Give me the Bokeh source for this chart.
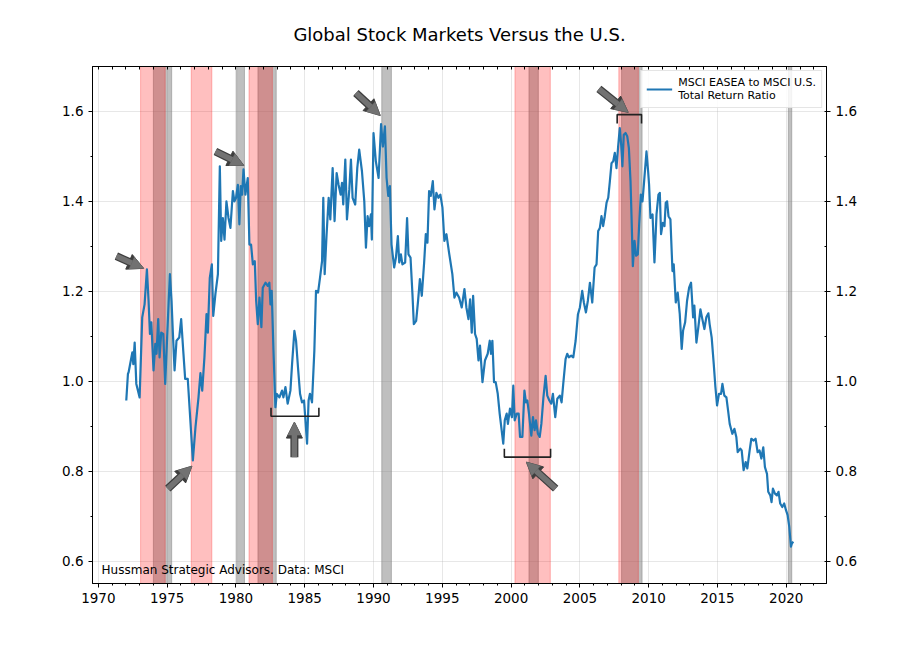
from bokeh.plotting import figure
from bokeh.models import (Range1d, LinearAxis, SingleIntervalTicker, FixedTicker, BoxAnnotation,
                          Arrow, NormalHead, Label, Legend, LegendItem, NumeralTickFormatter)
from bokeh.embed import file_html
from bokeh.resources import INLINE

# ---------------- data ----------------
years = [
    1972.03, 1972.15, 1972.20, 1972.47, 1972.54, 1972.64, 1972.76, 1973.00, 1973.19, 1973.36,
    1973.53, 1973.65, 1973.75, 1973.85, 1974.01, 1974.14, 1974.23, 1974.35, 1974.45, 1974.57,
    1974.72, 1974.86, 1975.00, 1975.20, 1975.32, 1975.41, 1975.54, 1975.68, 1975.88, 1976.02,
    1976.17, 1976.31, 1976.50, 1976.65, 1976.87, 1977.06, 1977.28, 1977.42, 1977.55, 1977.71,
    1977.86, 1977.96, 1978.10, 1978.25, 1978.35, 1978.51, 1978.69, 1978.83, 1978.93, 1979.05,
    1979.17, 1979.31, 1979.46, 1979.60, 1979.78, 1979.89,
    1980.01, 1980.14, 1980.25, 1980.35, 1980.45, 1980.55, 1980.69, 1980.86, 1980.98, 1981.10,
    1981.23, 1981.37, 1981.47, 1981.59, 1981.71, 1981.85, 1981.95, 1982.15, 1982.31, 1982.43,
    1982.51, 1982.60, 1982.73, 1982.87, 1982.97, 1983.16, 1983.35, 1983.45, 1983.60, 1983.76,
    1983.96, 1984.08, 1984.25, 1984.37, 1984.51, 1984.66, 1984.80, 1984.95, 1985.02, 1985.17,
    1985.28, 1985.38, 1985.53, 1985.70, 1985.82, 1985.97, 1986.11, 1986.26, 1986.35, 1986.45,
    1986.59, 1986.74, 1986.86, 1987.03, 1987.17, 1987.32, 1987.46, 1987.61, 1987.71, 1987.80,
    1987.95, 1988.07, 1988.24, 1988.36, 1988.48, 1988.67, 1988.82, 1988.96, 1989.16, 1989.33,
    1989.45, 1989.57, 1989.68, 1989.81, 1989.88, 1990.00, 1990.17, 1990.37,
    1990.55, 1990.68, 1990.83, 1990.95,
    1991.07, 1991.19, 1991.31, 1991.50, 1991.63, 1991.77, 1991.87, 1991.99, 1992.10, 1992.30,
    1992.44, 1992.54, 1992.69, 1992.83, 1992.93, 1993.10, 1993.24, 1993.37, 1993.51, 1993.68,
    1993.80, 1993.92, 1994.04, 1994.16, 1994.31, 1994.43, 1994.57, 1994.72, 1994.86, 1995.01,
    1995.15, 1995.30, 1995.49, 1995.73, 1995.88, 1996.02, 1996.22, 1996.41, 1996.61, 1996.75,
    1996.90, 1997.02, 1997.14, 1997.24, 1997.38, 1997.50, 1997.63, 1997.74, 1997.92, 1998.10,
    1998.30, 1998.45, 1998.54, 1998.64, 1998.76, 1998.88, 1999.03, 1999.17,
    1999.43, 1999.54, 1999.68, 1999.77, 1999.92, 2000.06, 2000.16, 2000.26, 2000.41, 2000.55,
    2000.65, 2000.82, 2000.97, 2001.08, 2001.18, 2001.30, 2001.47, 2001.59, 2001.71, 2001.81,
    2001.95, 2002.08, 2002.20, 2002.35, 2002.51, 2002.63, 2002.78, 2002.92, 2003.04, 2003.21,
    2003.36, 2003.54, 2003.67, 2003.79, 2003.96, 2004.08, 2004.20, 2004.37, 2004.52, 2004.69,
    2004.86, 2005.00, 2005.17, 2005.29, 2005.44, 2005.58, 2005.73, 2005.90, 2006.07, 2006.21,
    2006.33, 2006.45, 2006.57, 2006.69, 2006.81, 2006.94, 2007.06, 2007.18, 2007.30, 2007.42,
    2007.54, 2007.66, 2007.78, 2007.90, 2008.00, 2008.09, 2008.19, 2008.32, 2008.44, 2008.56,
    2008.68, 2008.75, 2008.85, 2008.97, 2009.09, 2009.21, 2009.31, 2009.43, 2009.55, 2009.67,
    2009.84, 2009.96,
    2010.03, 2010.13, 2010.28, 2010.42, 2010.57, 2010.71, 2010.81, 2010.90, 2011.03, 2011.15,
    2011.24, 2011.34, 2011.44, 2011.58, 2011.73, 2011.82, 2011.97, 2012.11, 2012.26, 2012.40,
    2012.50, 2012.65, 2012.79, 2012.94, 2013.08, 2013.23, 2013.32, 2013.47, 2013.61, 2013.76,
    2013.90, 2014.05, 2014.19, 2014.34, 2014.43, 2014.58, 2014.73, 2014.85, 2014.97, 2015.11,
    2015.26, 2015.36, 2015.50, 2015.65, 2015.77, 2015.89, 2016.08, 2016.23, 2016.37, 2016.47,
    2016.66, 2016.76, 2016.90, 2017.05, 2017.17, 2017.34, 2017.46, 2017.63, 2017.77, 2017.92,
    2018.06, 2018.19, 2018.33, 2018.45, 2018.60, 2018.69, 2018.84, 2018.93, 2019.03, 2019.18,
    2019.32, 2019.44, 2019.56, 2019.71, 2019.85, 2019.98, 2020.10, 2020.22, 2020.34, 2020.41,
    2020.51,
]
ratio = [
    0.957, 1.016, 1.020, 1.064, 1.038, 1.086, 0.994, 0.964, 1.142, 1.171,
    1.249, 1.179, 1.105, 1.131, 1.024, 1.083, 1.061, 1.138, 1.053, 1.108,
    1.105, 0.994, 1.098, 1.238, 1.179, 1.112, 1.024, 1.090, 1.097, 1.138,
    1.068, 1.005, 1.005, 0.931, 0.824, 0.898, 0.964, 1.018, 0.979, 1.053,
    1.149, 1.108, 1.230, 1.260, 1.145, 1.194, 1.238, 1.478, 1.312, 1.363,
    1.315, 1.400, 1.363, 1.341, 1.423, 1.400,
    1.408, 1.437, 1.349, 1.434, 1.415, 1.471, 1.415, 1.452, 1.304, 1.304,
    1.260, 1.267, 1.179, 1.127, 1.186, 1.120, 1.208, 1.219, 1.212, 1.219,
    1.171, 1.201, 1.068, 0.942, 0.972, 0.964, 0.979, 0.964, 0.987, 0.950,
    0.979, 1.038, 1.112, 1.090, 1.031, 0.972, 0.953, 0.957, 0.927, 0.861,
    0.957, 0.972, 0.953, 1.068, 1.201, 1.197, 1.230, 1.267, 1.408, 1.238,
    1.327, 1.408, 1.360, 1.474, 1.356, 1.463, 1.437, 1.415, 1.441, 1.393,
    1.493, 1.360, 1.426, 1.493, 1.408, 1.393, 1.474, 1.515, 1.467, 1.400,
    1.297, 1.367, 1.345, 1.371, 1.315, 1.552, 1.489, 1.452,
    1.572, 1.522, 1.567, 1.452,
    1.412, 1.434, 1.304, 1.253, 1.275, 1.323, 1.264, 1.282, 1.260, 1.264,
    1.363, 1.282, 1.275, 1.194, 1.127, 1.134, 1.179, 1.227, 1.190, 1.264,
    1.327, 1.308, 1.423, 1.412, 1.445, 1.382, 1.419, 1.408, 1.415, 1.386,
    1.312, 1.327, 1.286, 1.238, 1.186, 1.197, 1.186, 1.164, 1.205, 1.164,
    1.138, 1.182, 1.108, 1.190, 1.105, 1.094, 1.046, 1.079, 0.998, 1.046,
    1.061, 1.090, 1.061, 1.090, 0.998, 0.998, 0.972, 0.928,
    0.861, 0.913, 0.928, 0.905, 0.939, 0.920, 0.990, 0.913, 0.928, 0.928,
    0.876, 0.876, 0.979, 0.953, 0.957, 0.928, 0.879, 0.920, 0.891, 0.913,
    0.883, 0.876, 0.905, 0.964, 1.012, 0.968, 0.957, 0.950, 0.972, 0.920,
    0.961, 0.968, 0.953, 0.994, 1.049, 1.061, 1.053, 1.057, 1.053, 1.090,
    1.149, 1.164, 1.201, 1.175, 1.153, 1.179, 1.219, 1.175, 1.253, 1.260,
    1.334, 1.341, 1.367, 1.345, 1.367, 1.397, 1.408, 1.445, 1.485, 1.489,
    1.508, 1.474, 1.522, 1.563, 1.526, 1.478, 1.548, 1.552, 1.545, 1.519,
    1.445, 1.371, 1.256, 1.312, 1.279, 1.282, 1.349, 1.415, 1.400, 1.445,
    1.511, 1.467,
    1.437, 1.363, 1.371, 1.264, 1.371, 1.415, 1.419, 1.327, 1.352, 1.345,
    1.397, 1.400, 1.367, 1.360, 1.245, 1.260, 1.175, 1.197, 1.149, 1.072,
    1.112, 1.131, 1.179, 1.208, 1.219, 1.142, 1.168, 1.086, 1.120, 1.160,
    1.138, 1.116, 1.142, 1.151, 1.127, 1.097, 1.038, 0.987, 0.946, 0.972,
    0.972, 0.994, 0.968, 0.964, 0.935, 0.905, 0.883, 0.894, 0.876, 0.842,
    0.850, 0.846, 0.802, 0.820, 0.806, 0.846, 0.872, 0.868, 0.872, 0.842,
    0.846, 0.828, 0.853, 0.809, 0.794, 0.754, 0.746, 0.731, 0.761, 0.750,
    0.746, 0.754, 0.728, 0.720, 0.728, 0.713, 0.702, 0.676, 0.632, 0.639,
    0.643,
]

# shaded periods (start year, end year)
red_start = [1973.07, 1976.75, 1980.95, 2000.28, 2007.83]
red_end = [1974.86, 1978.25, 1982.65, 2002.85, 2009.25]
gray_start = [1974.00, 1980.05, 1981.60, 1990.60, 2001.30, 2008.03, 2020.15]
gray_end = [1975.33, 1980.62, 1982.93, 1991.30, 2001.98, 2009.52, 2020.40]

# arrows (tail -> tip)
arrow_x0 = [1971.31, 1975.05, 1978.51, 1984.25, 1988.72, 2003.24, 2006.38]
arrow_y0 = [1.278, 0.761, 1.511, 0.831, 1.641, 0.761, 1.650]
arrow_x1 = [1973.29, 1976.80, 1980.57, 1984.25, 1990.49, 2001.11, 2008.51]
arrow_y1 = [1.251, 0.811, 1.480, 0.909, 1.591, 0.820, 1.598]

# brackets (left, right, level of the bar, level of the tick ends)
br_x0 = [1982.55, 1999.51, 2007.71]
br_x1 = [1986.03, 2002.87, 2009.48]
br_bar = [0.922, 0.831, 1.593]
br_tip = [0.941, 0.850, 1.573]

# year ticks along the top edge
top_ticks = list(range(1970, 2023))

title_text = "Global Stock Markets Versus the U.S."
legend_text = "MSCI EASEA to MSCI U.S.\nTotal Return Ratio"
source_text = "Hussman Strategic Advisors. Data: MSCI"

FONT = "DejaVu Sans"

# ---------------- figure ----------------
x_lo, x_hi = 1969.575, 2022.925
y_lo, y_hi = 0.55, 1.70

p = figure(width=910, height=640, output_backend="svg", toolbar_location=None,
           x_range=Range1d(x_lo, x_hi), y_range=Range1d(y_lo, y_hi),
           min_border_left=92, min_border_right=84, min_border_top=65,
           min_border_bottom=57, title=title_text)
p.background_fill_color = "white"
p.border_fill_color = "white"
p.outline_line_color = "black"
p.outline_line_width = 1
p.outline_line_alpha = 1

p.title.text_font = FONT
p.title.text_font_size = "18px"
p.title.text_font_style = "normal"
p.title.text_color = "black"
p.title.align = "center"
p.title.standoff = 43

p.xaxis.ticker = SingleIntervalTicker(interval=5, num_minor_ticks=5)
p.yaxis.ticker = SingleIntervalTicker(interval=0.2, num_minor_ticks=2)
p.yaxis.formatter = NumeralTickFormatter(format="0.0")

def style_axis(ax, minor_in=False, major_in=False):
    ax.major_label_text_font = FONT
    ax.major_label_text_font_size = "13.5px"
    ax.major_label_text_color = "black"
    ax.axis_line_color = "black"
    ax.major_tick_line_color = "black"
    ax.minor_tick_line_color = "black"
    ax.major_tick_out = 0 if major_in else 4
    ax.major_tick_in = 4 if major_in else 0
    ax.minor_tick_out = 0 if minor_in else 2
    ax.minor_tick_in = 2 if minor_in else 0
    ax.major_label_standoff = 5

style_axis(p.xaxis[0])
style_axis(p.yaxis[0])

ra = LinearAxis(ticker=SingleIntervalTicker(interval=0.2, num_minor_ticks=2),
                formatter=NumeralTickFormatter(format="0.0"))
style_axis(ra, minor_in=True)
p.add_layout(ra, "right")

ta = LinearAxis(ticker=FixedTicker(ticks=[], minor_ticks=top_ticks))
style_axis(ta, minor_in=True, major_in=True)
ta.minor_tick_in = 3
ta.major_label_standoff = 0
p.add_layout(ta, "above")

p.xgrid.ticker = SingleIntervalTicker(interval=5)
p.xgrid.grid_line_color = "#b0b0b0"
p.xgrid.grid_line_alpha = 0.3
p.ygrid.grid_line_color = "#b0b0b0"
p.ygrid.grid_line_alpha = 0.3

# shaded spans: gray (recessions) under red
for a, b in zip(gray_start, gray_end):
    p.add_layout(BoxAnnotation(left=a, right=b, fill_color="gray", fill_alpha=0.5,
                               line_color="gray", line_alpha=0.5, line_width=1,
                               level="underlay"))
for a, b in zip(red_start, red_end):
    p.add_layout(BoxAnnotation(left=a, right=b, fill_color="red", fill_alpha=0.25,
                               line_color="red", line_alpha=0.25, line_width=1,
                               level="underlay"))

# main series
r = p.line(years, ratio, line_color="#1f77b4", line_width=2.2, line_join="round")

# brackets
p.multi_line(xs=[[a, a, b, b] for a, b in zip(br_x0, br_x1)],
             ys=[[t, m, m, t] for m, t in zip(br_bar, br_tip)],
             line_color="#222222", line_width=1.6)

# arrows: dark outline underneath, gray body on top
for x0, y0, x1, y1 in zip(arrow_x0, arrow_y0, arrow_x1, arrow_y1):
    p.add_layout(Arrow(end=NormalHead(size=16, fill_color="#3d3d3d", line_color="#3d3d3d",
                                      line_width=1),
                       x_start=x0, y_start=y0, x_end=x1, y_end=y1,
                       line_color="#3d3d3d", line_width=8))
    p.add_layout(Arrow(end=NormalHead(size=13, fill_color="#727272", line_color="#727272",
                                      line_width=0.5),
                       x_start=x0, y_start=y0, x_end=x1, y_end=y1,
                       line_color="#727272", line_width=5.5))

# source label
p.add_layout(Label(x=x_lo + 0.66, y=0.58, text=source_text, text_font=FONT,
                   text_font_size="12px", text_color="black",
                   text_baseline="alphabetic"))

legend = Legend(items=[LegendItem(label=legend_text, renderers=[r])],
                location="top_right", margin=4, padding=5, spacing=0,
                label_text_font=FONT, label_text_font_size="11px",
                label_text_color="black", label_standoff=6, glyph_width=26,
                border_line_color="#cccccc", border_line_width=1,
                background_fill_color="white", background_fill_alpha=0.85)
p.add_layout(legend)

open("out.html", "w").write(file_html(p, INLINE))
